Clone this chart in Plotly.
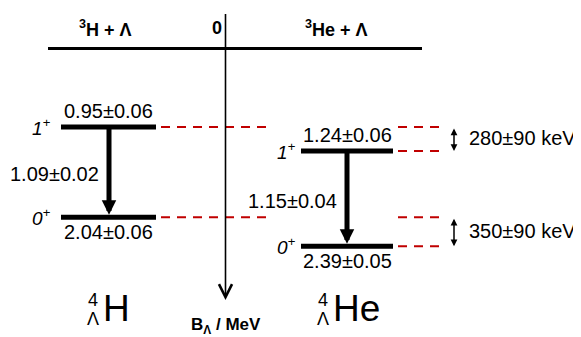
import plotly.graph_objects as go

# ---------------- data ----------------
nuclei = ["H", "He"]
thresholds = ["<sup>3</sup>H + Λ", "<sup>3</sup>He + Λ"]
B_excited = [0.95, 1.24]        # 1+ state, MeV
B_excited_err = [0.06, 0.06]
B_ground = [2.04, 2.39]         # 0+ state, MeV
B_ground_err = [0.06, 0.05]
E_gamma = [1.09, 1.15]          # 1+ -> 0+ transition, MeV
E_gamma_err = [0.02, 0.04]
csb_keV = [280, 350]            # differences (1+, 0+)
csb_err_keV = [90, 90]
spin_labels = ["1<sup>+</sup>", "0<sup>+</sup>"]

# ---------------- layout constants ----------------
W, H = 581, 337
OFF = 8                      # page body margin offset
Y0, PX_PER_MEV = 48.4, 82.8
def px2e(p):
    return (p - Y0) / PX_PER_MEV

bar_x = [(61, 156), (301, 393)]
stem_x = [109, 347]
spin_x = [53, 298]
dash_left = (161, 270)
dash_right = (398, 442)
dbl_x = 454
keV_x = 467
thr_line = (48, 422)
axis_x = 225.5
header_x = [105, 336]
big_x = [93, 323]
RED = "#C00000"
FONT = "Arial, Liberation Sans, sans-serif"

fig = go.Figure()

# level bars
for i in range(2):
    x0, x1 = bar_x[i]
    fig.add_trace(go.Scatter(x=[x0, x1, None, x0, x1],
                             y=[B_excited[i], B_excited[i], None, B_ground[i], B_ground[i]],
                             mode="lines", line=dict(color="black", width=5),
                             hoverinfo="skip", showlegend=False))

# threshold line
fig.add_trace(go.Scatter(x=list(thr_line), y=[0, 0], mode="lines",
                         line=dict(color="black", width=3), hoverinfo="skip", showlegend=False))

# red dashed comparison lines
dx, dy = [], []
for lvl in [B_excited[0], B_ground[0]]:
    dx += [dash_left[0], dash_left[1], None]
    dy += [lvl, lvl, None]
for lvl in [B_excited[0], B_excited[1], B_ground[0], B_ground[1]]:
    dx += [dash_right[0], dash_right[1], None]
    dy += [lvl, lvl, None]
fig.add_trace(go.Scatter(x=dx, y=dy, mode="lines",
                         line=dict(color=RED, width=2, dash="9px,7px"),
                         hoverinfo="skip", showlegend=False))

ann = []
# vertical B_Lambda axis
ann.append(dict(x=axis_x, y=px2e(300), ax=axis_x, ay=px2e(12.5), xref="x", yref="y",
                axref="x", ayref="y", text="", showarrow=True, arrowhead=5,
                arrowwidth=1.6, arrowsize=1.6, arrowcolor="black", standoff=0))

for i in range(2):
    # transition arrow
    ann.append(dict(x=stem_x[i], y=B_ground[i] - 0.03, ax=stem_x[i], ay=B_excited[i],
                    xref="x", yref="y", axref="x", ayref="y", text="", showarrow=True,
                    arrowhead=2, arrowwidth=5, arrowsize=0.58, arrowcolor="black", standoff=0))
    xc = (bar_x[i][0] + bar_x[i][1]) / 2
    ann.append(dict(x=xc, y=B_excited[i], yshift=16, xref="x", yref="y", showarrow=False,
                    text=f"{B_excited[i]:.2f}±{B_excited_err[i]:.2f}",
                    font=dict(size=20, color="black", family=FONT)))
    ann.append(dict(x=xc, y=B_ground[i], yshift=-15, xref="x", yref="y", showarrow=False,
                    text=f"{B_ground[i]:.2f}±{B_ground_err[i]:.2f}",
                    font=dict(size=20, color="black", family=FONT)))
    ann.append(dict(x=stem_x[i] - 8, y=(B_excited[i] + B_ground[i]) / 2, yshift=-2,
                    xref="x", yref="y", xanchor="right", showarrow=False,
                    text=f"{E_gamma[i]:.2f}±{E_gamma_err[i]:.2f}",
                    font=dict(size=20, color="black", family=FONT)))
    for lvl, sl in zip([B_excited[i], B_ground[i]], spin_labels):
        ann.append(dict(x=spin_x[i], y=lvl, xref="x", yref="y", xanchor="right", showarrow=False,
                        text=f"<i>{sl}</i>", font=dict(size=19, color="black", family=FONT)))
    # header
    ann.append(dict(x=header_x[i], y=0, yshift=20, xref="x", yref="y", showarrow=False,
                    text=f"<b>{thresholds[i]}</b>", font=dict(size=18, color="black", family=FONT)))
    # big hypernucleus labels
    ann.append(dict(x=big_x[i] + 8, y=px2e(308), xref="x", yref="y", xanchor="left",
                    showarrow=False, text=nuclei[i],
                    font=dict(size=37, color="black", family=FONT)))
    ann.append(dict(x=big_x[i], y=px2e(300), xref="x", yref="y", showarrow=False, text="4",
                    font=dict(size=18, color="black", family=FONT)))
    ann.append(dict(x=big_x[i], y=px2e(319), xref="x", yref="y", showarrow=False, text="Λ",
                    font=dict(size=18, color="black", family=FONT)))

# CSB double arrows and labels
pairs = [(B_excited[0], B_excited[1]), (B_ground[0], B_ground[1])]
for (a, b), v, e in zip(pairs, csb_keV, csb_err_keV):
    ann.append(dict(x=dbl_x, y=b, ax=dbl_x, ay=a, xref="x", yref="y", axref="x", ayref="y",
                    text="", showarrow=True, arrowhead=2, startarrowhead=2, arrowside="end+start",
                    arrowwidth=1.5, arrowsize=0.9, startarrowsize=0.9, arrowcolor="black",
                    standoff=0, startstandoff=0))
    ann.append(dict(x=keV_x, y=(a + b) / 2, yshift=1, xref="x", yref="y", xanchor="left",
                    showarrow=False, text=f"{v}±{e} keV",
                    font=dict(size=20, color="black", family=FONT)))

# zero label and axis title
ann.append(dict(x=217, y=0, yshift=20, xref="x", yref="y", showarrow=False, text="<b>0</b>",
                font=dict(size=18, color="black", family=FONT)))
ann.append(dict(x=axis_x, y=px2e(326), xref="x", yref="y", showarrow=False,
                text="<b>B<sub>Λ</sub> / MeV</b>", font=dict(size=17, color="black", family=FONT)))

fig.update_layout(
    width=W, height=H, margin=dict(l=0, r=0, t=0, b=0),
    paper_bgcolor="white", plot_bgcolor="white",
    xaxis=dict(range=[OFF, W + OFF], visible=False, fixedrange=True),
    yaxis=dict(range=[px2e(H + OFF), px2e(OFF)], visible=False, fixedrange=True),
    annotations=ann, showlegend=False,
)
fig.write_html("out.html")
